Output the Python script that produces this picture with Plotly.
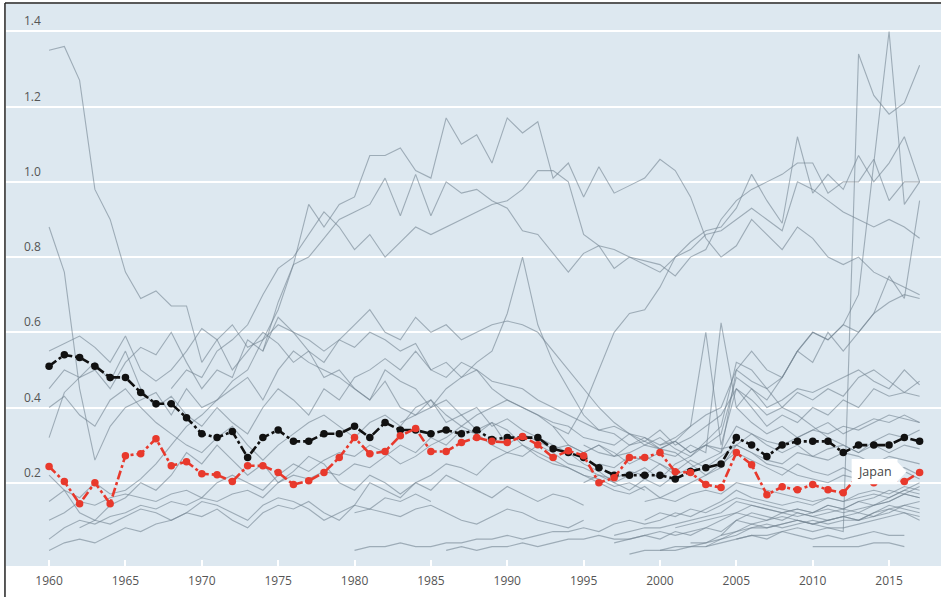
import plotly.graph_objects as go

# ---------------- data ----------------
years_avg_start = 1960
avg_values = [0.51,0.54,0.533,0.51,0.48,0.48,0.44,0.41,0.41,0.373,
              0.33,0.32,0.336,0.267,0.32,0.34,0.31,0.31,0.33,0.33,
              0.35,0.32,0.36,0.34,0.34,0.33,0.34,0.33,0.34,0.315,
              0.32,0.32,0.32,0.29,0.28,0.267,0.24,0.22,0.22,0.22,
              0.22,0.21,0.23,0.24,0.25,0.32,0.30,0.27,0.30,0.31,
              0.31,0.31,0.28,0.30,0.30,0.30,0.32,0.31]

japan_start = 1960
japan_values = [0.243,0.203,0.144,0.20,0.144,0.272,0.277,0.317,0.245,0.256,
                0.224,0.221,0.203,0.245,0.245,0.227,0.195,0.205,0.227,0.267,
                0.32,0.277,0.283,0.325,0.344,0.283,0.283,0.307,0.32,0.31,
                0.307,0.323,0.301,0.267,0.285,0.272,0.20,0.213,0.267,0.267,
                0.28,0.229,0.227,0.195,0.187,0.28,0.248,0.168,0.189,0.181,
                0.195,0.181,0.173,0.22,0.20,0.21,0.203,0.227]

# other countries: (first year, values)
g01 = (1960, [1.35,1.36,1.27,0.98,0.90,0.76,0.69,0.71,0.67,0.67,0.52,0.58,0.50,0.55,0.60,0.57,0.52,0.55,0.48,0.50,
              0.45,0.42,0.47,0.40,0.38,0.42,0.36,0.38,0.34,0.36,0.30,0.33,0.31,0.29,0.30,0.28,0.30,0.27,0.28,0.30,
              0.29,0.31,0.28,0.30,0.33,0.48,0.45,0.40,0.42,0.45,0.44,0.46,0.48,0.50,0.47,0.45,0.50,0.46])
g02 = (1960, [0.88,0.76,0.45,0.26,0.35,0.40,0.42,0.44,0.38,0.45,0.40,0.42,0.47,0.50,0.58,0.66,0.78,0.94,0.88,0.94,
              0.96,1.07,1.07,1.09,1.03,1.01,1.17,1.10,1.125,1.05,1.17,1.13,1.16,1.01,1.05,0.96,1.04,0.97,0.99,1.01,
              1.06,1.03,0.96,0.85,0.80,0.83,0.90,0.86,0.82,0.88,0.85,0.80,0.78,0.80,0.76,0.74,0.72,0.70])
g03 = (1974, [0.55,0.68,0.78,0.80,0.85,0.90,0.92,0.94,1.01,0.91,1.02,0.91,1.00,0.97,0.98,0.95,0.93,0.87,0.86,0.81,
              0.76,0.81,0.83,0.77,0.80,0.78,0.76,0.80,0.84,0.87,0.88,0.93,1.02,0.95,0.89,1.12,0.97,1.02,0.98,1.07,
              1.00,1.05,1.12,1.00])
g04 = (1968, [0.45,0.50,0.48,0.55,0.58,0.62,0.70,0.77,0.80,0.86,0.92,0.88,0.82,0.86,0.80,0.84,0.88,0.86,0.88,0.90,
              0.92,0.94,0.95,0.98,1.03,1.03,1.00,0.86,0.83,0.82,0.80,0.79,0.78,0.75,0.80,0.82,0.90,0.95,0.98,1.00,
              1.02,1.05,1.05,0.97,1.00,1.00,1.06,0.95,1.00,1.00])
g05 = (1997, [0.04,0.05,0.06,0.05,0.07,0.06,0.08,0.07,0.10,0.09,0.10,0.11,0.10,0.09,0.08,0.07,1.34,1.23,1.18,1.21,1.31])
g06 = (2000, [0.30,0.32,0.35,0.38,0.40,0.50,0.47,0.45,0.48,0.55,0.60,0.58,0.62,0.70,1.05,1.40,0.94,1.00])
g07 = (2005, [0.40,0.45,0.42,0.48,0.55,0.52,0.60,0.55,0.60,0.65,0.75,0.69,0.95])
g08 = (1983, [0.36,0.38,0.40,0.45,0.48,0.52,0.55,0.65,0.80,0.62,0.52,0.45,0.38,0.34,0.33,0.30,0.31,0.29,0.28,0.25,
              0.22,0.24,0.30,0.28,0.26,0.25,0.28,0.27,0.29,0.30,0.28,0.31,0.33,0.32,0.34])
g09 = (1993, [0.35,0.33,0.40,0.50,0.60,0.65,0.66,0.72,0.80,0.82,0.86,0.87,0.90,0.93,0.90,0.87,1.00,0.98,0.95,0.92,
              0.90,0.88,0.90,0.88,0.85])
g10 = (1960, [0.55,0.57,0.59,0.56,0.52,0.59,0.50,0.47,0.50,0.55,0.61,0.58,0.62,0.56,0.58,0.62,0.60,0.58,0.55,0.58,
              0.56,0.60,0.58,0.55,0.57,0.50,0.52,0.48,0.50,0.47,0.46,0.45,0.42,0.40,0.38,0.36,0.34,0.35,0.33,0.32,
              0.30,0.31,0.28,0.30,0.29,0.30,0.33,0.31,0.30,0.32,0.34,0.33,0.35,0.34,0.36,0.38,0.37,0.36])
g11 = (1960, [0.32,0.44,0.48,0.50,0.45,0.52,0.56,0.54,0.60,0.52,0.45,0.50,0.48,0.58,0.55,0.64,0.60,0.55,0.52,0.58,
              0.62,0.66,0.60,0.58,0.64,0.60,0.62,0.58,0.60,0.62,0.63,0.62,0.60,0.55,0.50,0.45,0.40,0.36,0.33,0.30,
              0.32,0.29,0.27,0.30,0.28,0.50,0.55,0.50,0.48,0.55,0.60,0.58,0.62,0.60,0.65,0.68,0.70,0.69])
g12 = (1960, [0.45,0.50,0.48,0.52,0.47,0.55,0.45,0.40,0.43,0.38,0.35,0.40,0.36,0.33,0.40,0.45,0.42,0.38,0.45,0.42,
              0.48,0.50,0.53,0.50,0.55,0.50,0.48,0.52,0.50,0.45,0.42,0.40,0.38,0.36,0.35,0.32,0.31,0.30,0.33,0.31,
              0.34,0.30,0.32,0.35,0.38,0.45,0.42,0.38,0.40,0.44,0.42,0.45,0.43,0.48,0.50,0.47,0.44,0.43])
g13 = (1960, [0.22,0.18,0.16,0.20,0.17,0.18,0.21,0.25,0.30,0.35,0.38,0.42,0.45,0.48,0.42,0.50,0.55,0.52,0.50,0.48,
              0.45,0.42,0.50,0.47,0.45,0.40,0.42,0.38,0.40,0.35,0.37,0.34,0.32,0.30,0.28,0.25,0.23,0.20,0.22,0.24,
              0.21,0.25,0.27,0.31,0.35,0.52,0.50,0.45,0.40,0.38,0.35,0.32,0.30,0.28,0.30,0.28,0.30,0.29])
g14 = (1960, [0.10,0.12,0.15,0.14,0.16,0.17,0.16,0.15,0.17,0.18,0.16,0.20,0.22,0.20,0.18,0.22,0.25,0.23,0.26,0.28,
              0.27,0.30,0.28,0.25,0.27,0.30,0.32,0.35,0.38,0.40,0.42,0.40,0.38,0.35,0.30,0.28,0.30,0.28,0.25,0.27,
              0.25,0.22,0.24,0.26,0.28,0.35,0.33,0.30,0.28,0.30,0.27,0.26,0.28,0.27,0.25,0.27,0.26,0.25])
g15 = (1960, [0.05,0.08,0.10,0.09,0.11,0.12,0.14,0.13,0.15,0.14,0.16,0.15,0.17,0.18,0.16,0.20,0.22,0.21,0.23,0.22,
              0.25,0.24,0.27,0.30,0.28,0.32,0.30,0.34,0.33,0.30,0.28,0.30,0.27,0.25,0.24,0.22,0.20,0.18,0.17,0.19,
              0.16,0.18,0.20,0.22,0.25,0.28,0.26,0.24,0.22,0.25,0.23,0.22,0.24,0.22,0.21,0.23,0.24,0.22])
g16 = (1960, [0.02,0.04,0.05,0.04,0.06,0.08,0.07,0.09,0.10,0.12,0.11,0.13,0.10,0.08,0.12,0.14,0.13,0.15,0.12,0.10,
              0.14,0.13,0.16,0.15,0.17,0.15])
g17 = (1960, [0.15,0.18,0.12,0.10,0.14,0.16,0.20,0.18,0.22,0.28,0.25,0.30,0.26,0.22,0.25,0.20,0.23,0.27,0.25,0.20,
              0.18,0.22,0.20,0.17,0.20,0.18,0.22,0.20,0.18,0.16,0.19,0.17,0.15,0.17,0.16,0.14])
g18 = (1960, [0.40,0.43,0.38,0.35,0.42,0.45,0.40,0.36,0.33,0.30,0.28,0.32,0.35,0.30,0.26,0.30,0.33,0.36,0.38,0.35,
              0.32,0.36,0.38,0.35,0.40,0.42,0.38,0.35,0.33,0.36,0.34,0.30,0.28,0.26,0.24,0.22,0.21,0.19,0.20,0.18])
g19 = (1962, [0.08,0.10,0.09,0.11,0.13,0.12,0.10,0.12,0.15,0.14,0.12,0.10,0.14,0.16,0.15,0.13,0.10,0.12,0.14,0.20,
              0.18,0.16,0.20,0.22,0.25,0.24,0.22,0.26,0.28,0.27,0.30,0.28,0.25,0.24,0.22,0.20,0.18,0.21,0.19,0.22])
g20 = (1980, [0.02,0.03,0.03,0.04,0.03,0.03,0.04,0.04,0.05,0.05,0.06,0.05,0.06,0.07,0.07,0.08,0.07,0.09,0.10,0.09,
              0.10,0.12,0.11,0.13,0.15,0.18,0.16,0.15,0.14,0.15,0.14,0.16,0.15,0.17,0.18,0.17,0.19,0.18])
g21 = (1980, [0.12,0.13,0.12,0.11,0.13,0.14,0.12,0.10,0.09,0.11,0.13,0.12,0.10,0.09,0.08,0.10])
g22 = (1995, [0.30,0.28,0.27,0.30,0.32,0.29,0.31,0.35,0.60,0.30,0.45,0.40,0.35,0.38,0.36,0.40,0.38,0.42,0.40,0.45,
              0.43,0.44,0.47])
g23 = (1996, [0.25,0.24,0.27,0.26,0.28,0.27,0.30,0.28,0.625,0.40,0.36,0.33,0.35,0.32,0.34,0.36,0.33,0.35,0.37,0.36,
              0.38,0.36])
g24 = (1986, [0.02,0.03,0.02,0.03,0.03,0.04,0.03,0.04,0.05,0.05,0.06,0.05,0.05,0.06,0.07,0.06,0.07,0.08,0.10,0.12,
              0.11,0.10,0.12,0.13,0.12,0.14,0.13,0.15,0.16,0.18,0.17,0.16])
g25 = (1997, [0.06,0.07,0.08,0.08,0.09,0.10,0.11,0.12,0.15,0.14,0.13,0.12,0.13,0.12,0.14,0.13,0.15,0.14,0.16,0.18,0.17])
g26 = (1998, [0.01,0.02,0.02,0.03,0.03,0.04,0.06,0.07,0.08,0.08,0.09,0.10,0.09,0.10,0.11,0.10,0.12,0.13,0.14,0.13])
g27 = (1999, [0.10,0.12,0.11,0.13,0.12,0.14,0.16,0.15,0.14,0.13,0.12,0.11,0.12,0.13,0.12,0.14,0.15,0.17,0.16])
g28 = (2000, [0.02,0.02,0.03,0.03,0.04,0.05,0.06,0.06,0.07,0.08,0.07,0.08,0.08,0.09,0.10,0.11,0.12,0.11])
g29 = (2003, [0.03,0.05,0.07,0.09,0.08,0.09,0.10,0.09,0.10,0.11,0.10,0.12,0.14,0.13,0.12])
g30 = (2005, [0.05,0.06,0.05,0.07,0.06,0.05,0.06,0.05,0.06,0.07,0.06,0.06])
g31 = (2010, [0.03,0.03,0.03,0.03,0.04,0.04,0.03])
g32 = (1995, [0.20,0.22,0.21,0.23,0.22,0.25,0.23,0.26,0.24,0.27,0.30,0.28,0.25,0.24,0.22,0.21,0.20,0.22,0.21,0.20,
              0.22,0.23,0.21])
g33 = (2001, [0.08,0.09,0.10,0.11,0.12,0.14,0.13,0.12,0.11,0.12,0.13,0.12,0.13,0.14,0.15,0.17,0.19])
g34 = (2002, [0.04,0.04,0.05,0.06,0.08,0.09,0.08,0.09,0.10,0.09,0.10,0.10,0.11,0.12,0.14,0.15])
g35 = (1999, [0.15,0.16,0.15,0.17,0.18,0.17,0.20,0.19,0.18,0.17,0.16,0.15,0.16,0.15,0.16,0.17,0.16,0.18,0.20])
g36 = (2004, [0.06,0.10,0.12,0.11,0.10,0.12,0.11,0.10,0.11,0.12,0.11,0.13,0.12,0.10])
grey_series = [g01,g02,g03,g04,g05,g06,g07,g08,g09,g10,g11,g12,g13,g14,g15,g16,g17,g18,
               g19,g20,g21,g22,g23,g24,g25,g26,g27,g28,g29,g30,g31,g32,g33,g34,g35,g36]

x_ticks = [1960,1965,1970,1975,1980,1985,1990,1995,2000,2005,2010,2015]
y_ticks = [0.2,0.4,0.6,0.8,1.0,1.2,1.4]
y_tick_labels = ["0.2","0.4","0.6","0.8","1.0","1.2","1.4"]
label_country = "Japan"

# ---------------- figure ----------------
fig = go.Figure()
for start, vals in grey_series:
    fig.add_trace(go.Scatter(
        x=list(range(start, start + len(vals))), y=vals, mode="lines",
        line=dict(color="rgba(115,132,145,0.6)", width=1.1),
        hoverinfo="skip", showlegend=False))

fig.add_trace(go.Scatter(
    x=list(range(years_avg_start, years_avg_start + len(avg_values))), y=avg_values,
    mode="lines+markers", line=dict(color="#111111", width=2.6, dash="dashdot"),
    marker=dict(color="#111111", size=7.5), showlegend=False))
fig.add_trace(go.Scatter(
    x=list(range(japan_start, japan_start + len(japan_values))), y=japan_values,
    mode="lines+markers", line=dict(color="#e8392c", width=2.6, dash="dashdot"),
    marker=dict(color="#e8392c", size=7.5), showlegend=False))

# Japan callout box
bx0, bx1, btip, by0, by1 = 2012.55, 2015.55, 2016.15, 0.196, 0.263
bym = (by0 + by1) / 2
fig.add_shape(type="path",
              path=f"M {bx0} {by0} L {bx1} {by0} L {bx1} {by0+0.008} L {btip} {bym} L {bx1} {by1-0.008} L {bx1} {by1} L {bx0} {by1} Z",
              fillcolor="white", line=dict(width=0), layer="above")
fig.add_annotation(x=(bx0 + bx1) / 2, y=bym, text=label_country, showarrow=False,
                   font=dict(family="Open Sans", size=12.5, color="#444"))

# y labels above gridlines
for v, t in zip(y_ticks, y_tick_labels):
    fig.add_annotation(xref="paper", x=0.0175, y=v, yref="y", text=t, showarrow=False,
                       xanchor="left", yanchor="bottom", yshift=0,
                       font=dict(family="Open Sans", size=12, color="#555"))

# frame lines (top and left)
fig.add_shape(type="line", xref="paper", yref="paper", x0=-0.0011, x1=-0.0011, y0=-0.06, y1=1.002,
              line=dict(color="#222", width=1.5))
fig.add_shape(type="line", xref="paper", yref="paper", x0=-0.0011, x1=1.0, y0=1.002, y1=1.002,
              line=dict(color="#222", width=1.5))

fig.update_layout(
    width=941, height=597,
    margin=dict(l=6, r=0, t=4, b=31),
    paper_bgcolor="white", plot_bgcolor="#dde8f0",
    showlegend=False,
    xaxis=dict(range=[1957.18, 2018.4], tickvals=x_ticks, ticks="inside", ticklen=6,
               tickcolor="white", tickwidth=2, showgrid=False, zeroline=False,
               tickfont=dict(family="Open Sans", size=12, color="#555"),
               ticklabelstandoff=6),
    yaxis=dict(range=[-0.0215, 1.473], tickvals=y_ticks, showticklabels=False,
               gridcolor="white", gridwidth=2, zeroline=False, ticks=""),
)

fig.write_html("out.html", config={"displayModeBar": False},
               post_script="document.body.style.margin='0';document.body.style.overflow='hidden';")
